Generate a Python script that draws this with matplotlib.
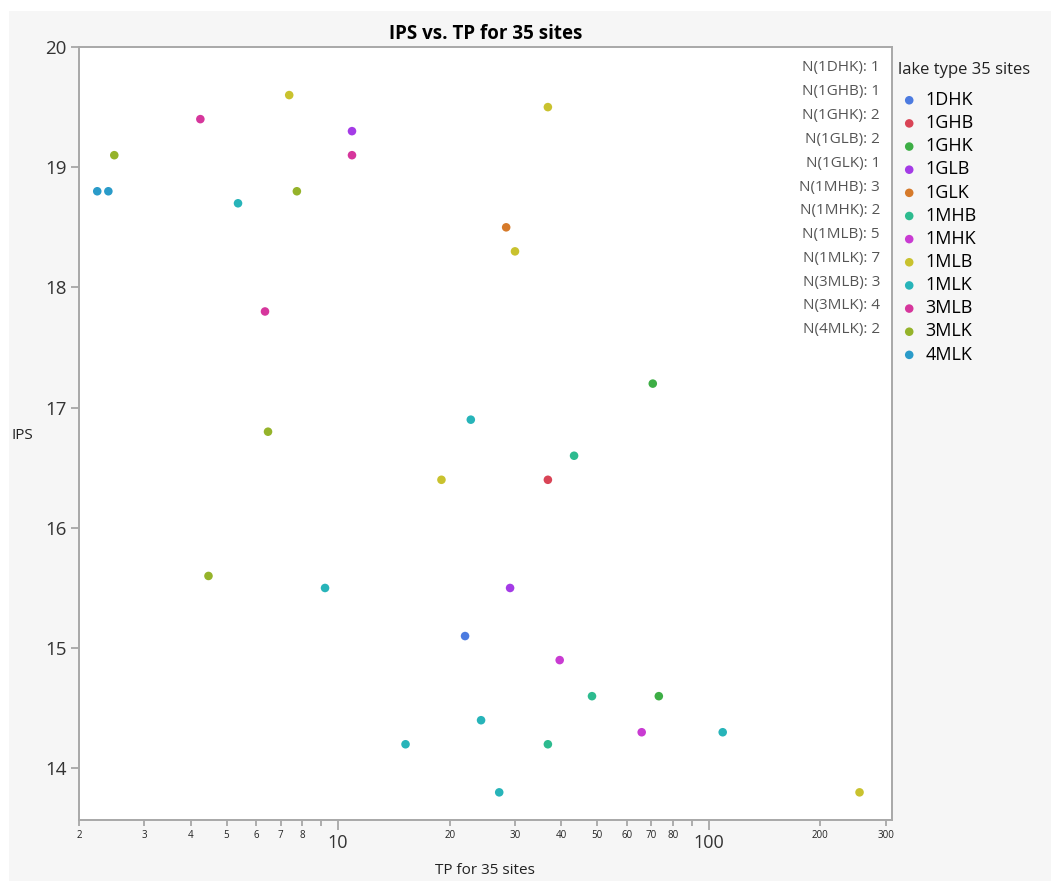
import numpy as np
import matplotlib
matplotlib.use('Agg')
import matplotlib.pyplot as plt
from matplotlib.patches import Rectangle

plt.rcParams['font.family'] = ['Open Sans', 'DejaVu Sans']

# Data per lake type: TP and IPS
groups = ['1DHK', '1GHB', '1GHK', '1GLB', '1GLK', '1MHB', '1MHK', '1MLB', '1MLK', '3MLB', '3MLK', '4MLK']
colors = ['#4C7BE0', '#D94456', '#3DAE45', '#A43BE6', '#D67A2A', '#2DBB8F',
          '#C93BD2', '#C9C22E', '#27B4B9', '#D6369C', '#95B32A', '#2A9BC9']

tp_1DHK = [22.0]
ips_1DHK = [15.1]
tp_1GHB = [36.8]
ips_1GHB = [16.4]
tp_1GHK = [70.6, 73.3]
ips_1GHK = [17.2, 14.6]
tp_1GLB = [10.9, 29.1]
ips_1GLB = [19.3, 15.5]
tp_1GLK = [28.4]
ips_1GLK = [18.5]
tp_1MHB = [43.3, 48.4, 36.8]
ips_1MHB = [16.6, 14.6, 14.2]
tp_1MHK = [39.6, 65.9]
ips_1MHK = [14.9, 14.3]
tp_1MLB = [7.38, 36.8, 30.0, 19.0, 255]
ips_1MLB = [19.6, 19.5, 18.3, 16.4, 13.8]
tp_1MLK = [5.37, 22.8, 9.22, 15.2, 24.3, 27.2, 109]
ips_1MLK = [18.7, 16.9, 15.5, 14.2, 14.4, 13.8, 14.3]
tp_3MLB = [4.25, 10.9, 6.35]
ips_3MLB = [19.4, 19.1, 17.8]
tp_3MLK = [2.49, 7.74, 6.47, 4.47]
ips_3MLK = [19.1, 18.8, 16.8, 15.6]
tp_4MLK = [2.24, 2.40]
ips_4MLK = [18.8, 18.8]

tp_all = [tp_1DHK, tp_1GHB, tp_1GHK, tp_1GLB, tp_1GLK, tp_1MHB, tp_1MHK, tp_1MLB, tp_1MLK, tp_3MLB, tp_3MLK, tp_4MLK]
ips_all = [ips_1DHK, ips_1GHB, ips_1GHK, ips_1GLB, ips_1GLK, ips_1MHB, ips_1MHK, ips_1MLB, ips_1MLK, ips_3MLB, ips_3MLK, ips_4MLK]
n_counts = [1, 1, 2, 2, 1, 3, 2, 5, 7, 3, 4, 2]

minor_ticks = [2, 3, 4, 5, 6, 7, 8, 9, 20, 30, 40, 50, 60, 70, 80, 90, 200, 300]
minor_labels = ['2', '3', '4', '5', '6', '7', '8', '', '20', '30', '40', '50', '60', '70', '80', '', '200', '300']

W, H = 1051, 881
fig = plt.figure(figsize=(W / 100, H / 100), dpi=100)
fig.patch.set_facecolor('white')
fig.patches.append(Rectangle((9 / W, 0), 1, 1 - 11 / H, transform=fig.transFigure,
                             facecolor='#f6f6f6', edgecolor='none', zorder=-10))

ax = fig.add_axes([79 / W, 1 - 820 / H, (891.5 - 79) / W, (820 - 47) / H])
ax.set_facecolor('white')

for g, c, xs, ys in zip(groups, colors, tp_all, ips_all):
    ax.scatter(xs, ys, s=38, color=c, edgecolors='none', label=g, zorder=3)

ax.set_xscale('log')
ax.set_xlim(2, 311)
ax.set_ylim(13.57, 20)

ax.set_xticks([10, 100])
ax.set_xticklabels(['10', '100'], fontsize=13, color='#333333')
ax.set_xticks(minor_ticks, minor=True)
ax.set_xticklabels(minor_labels, minor=True, fontsize=7, color='#222222')
ax.tick_params(axis='x', which='major', length=7, width=1.2, color='#a0a0a0', pad=3)
ax.tick_params(axis='x', which='minor', length=4, width=1.2, color='#a0a0a0', pad=3)

ax.set_yticks([14, 15, 16, 17, 18, 19, 20])
ax.tick_params(axis='y', which='major', length=6, width=1.2, color='#a0a0a0',
               labelsize=13.5, labelcolor='#333333', pad=3)

for sp in ax.spines.values():
    sp.set_color('#a8a8a8')
    sp.set_linewidth(1.4)

ax.set_title('IPS vs. TP for 35 sites', fontsize=13.5, fontweight='bold', pad=6)
fig.text(485 / W, 1 - 871 / H, 'TP for 35 sites', ha='center', va='center', fontsize=11, color='#222222')
fig.text(22 / W, 1 - 435 / H, 'IPS', ha='center', va='center', fontsize=11, color='#222222')

# N counts per group
for i, (g, n) in enumerate(zip(groups, n_counts)):
    ax.text(880 / W, 1 - (68 + i * 23.8) / H, f'N({g}): {n}', transform=fig.transFigure,
            ha='right', va='center', fontsize=11, color='#555555')

# legend title and entries
fig.text(898 / W, 1 - 70 / H, 'lake type 35 sites', ha='left', va='center', fontsize=12, color='#222222')
leg = fig.legend(loc='upper left', bbox_to_anchor=(902 / W, 1 - 91 / H), frameon=False,
                 fontsize=13, handlelength=0.8, handletextpad=0.5, labelspacing=0.285,
                 borderaxespad=0, borderpad=0)

fig.savefig('out.png', dpi=100)
